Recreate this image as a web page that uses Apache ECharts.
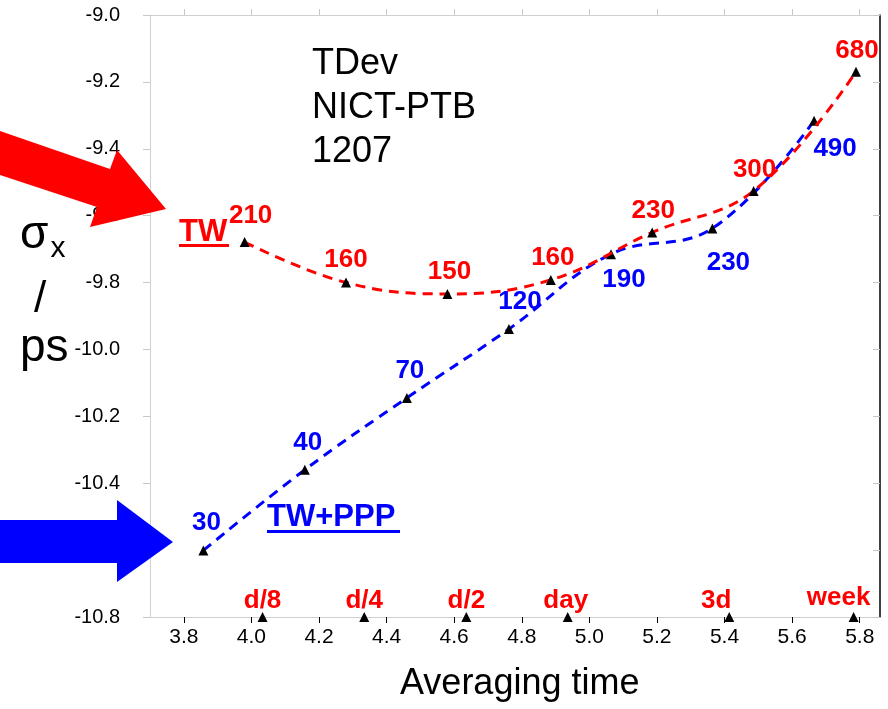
<!DOCTYPE html>
<html>
<head>
<meta charset="utf-8">
<title>TDev NICT-PTB 1207</title>
<script src="https://cdn.jsdelivr.net/npm/echarts@6/dist/echarts.min.js"></script>
<style>
  html, body { margin: 0; padding: 0; background: #fff; }
  #chart { width: 888px; height: 709px; }
</style>
</head>
<body>
<div id="chart"></div>
<script>
// log10(averaging time / s) and log10(TDev) values
const twX = [3.98, 4.28, 4.58, 4.886, 5.186, 5.486, 5.789];
const twY = [-9.679, -9.800, -9.834, -9.792, -9.650, -9.526, -9.170];
const twLabels = ['210', '160', '150', '160', '230', '300', '680'];

const pppX = [3.858, 4.158, 4.46, 4.762, 5.064, 5.364, 5.665];
const pppY = [-10.601, -10.360, -10.145, -9.939, -9.715, -9.638, -9.316];
const pppLabels = ['30', '40', '70', '120', '190', '230', '490'];

// reference periods marked along the bottom axis
const periodX = [4.033, 4.334, 4.636, 4.936, 5.414, 5.782];
const periodLabels = ['d/8', 'd/4', 'd/2', 'day', '3d', 'week'];

const xTicks = [3.8, 4.0, 4.2, 4.4, 4.6, 4.8, 5.0, 5.2, 5.4, 5.6, 5.8];
const yMin = -10.8, yMax = -9.0, yStep = 0.2;

// label offsets (pixels, from the marker centre)
const twOffsets = [[6, -26], [0, -23], [2, -22], [2, -22], [1, -22], [1, -21], [1, -21]];
const pppOffsets = [[3, -28], [3, -27], [3, -27], [11, -27], [13, 26], [16, 34], [21, 28]];
const periodOffsets = [[0, -16], [0, -16], [0, -16], [-2, -16], [-13, -16], [-15, -19]];

const FONT = "'Liberation Sans', Arial, sans-serif";

function pairs(xs, ys, offsets) {
    return xs.map((x, i) => ({
        value: [x, ys[i]],
        label: { offset: offsets[i] }
    }));
}

const chart = echarts.init(document.getElementById('chart'));

chart.setOption({
    animation: false,
    backgroundColor: '#fff',
    textStyle: { fontFamily: FONT },
    grid: { left: 150, right: 8, top: 15, bottom: 92 },
    xAxis: [{
        type: 'value',
        min: 3.7,
        max: 5.86,
        position: 'bottom',
        axisLine: { lineStyle: { color: '#d0d0d0', width: 1 } },
        axisTick: { customValues: xTicks, length: 6, lineStyle: { color: '#000' } },
        axisLabel: {
            customValues: xTicks,
            formatter: v => v.toFixed(1),
            color: '#000', fontSize: 21, margin: 10, fontFamily: FONT
        },
        splitLine: { show: false }
    }, {
        type: 'value',
        min: 3.7,
        max: 5.86,
        position: 'top',
        axisLine: { lineStyle: { color: '#d0d0d0', width: 1 } },
        axisTick: { customValues: xTicks, length: 6, lineStyle: { color: '#c8c8c8' } },
        axisLabel: { show: false },
        splitLine: { show: false }
    }],
    yAxis: [{
        type: 'value',
        min: yMin,
        max: yMax,
        interval: yStep,
        axisLine: { show: true, lineStyle: { color: '#d0d0d0', width: 1 } },
        axisTick: { show: true, length: 7, lineStyle: { color: '#c8c8c8' } },
        axisLabel: {
            formatter: v => v.toFixed(1),
            color: '#000', fontSize: 20, margin: 30, fontFamily: FONT
        },
        splitLine: { show: false }
    }, {
        type: 'value',
        min: yMin,
        max: yMax,
        interval: yStep,
        position: 'right',
        axisLine: { show: true, lineStyle: { color: '#000', width: 1.5 } },
        axisTick: { show: true, inside: true, length: 7, lineStyle: { color: '#c8c8c8' } },
        axisLabel: { show: false },
        splitLine: { show: false }
    }],
    series: [{
        name: 'TW',
        type: 'line',
        smooth: 0.4,
        data: pairs(twX, twY, twOffsets),
        symbol: 'triangle',
        symbolSize: 10,
        itemStyle: { color: '#000' },
        lineStyle: { color: '#ff0000', width: 3, type: [10, 7] },
        label: {
            show: true,
            position: 'inside',
            formatter: p => twLabels[p.dataIndex],
            color: '#ff0000', fontWeight: 'bold', fontSize: 26, fontFamily: FONT
        },
        z: 3
    }, {
        name: 'TW+PPP',
        type: 'line',
        smooth: 0.4,
        data: pairs(pppX, pppY, pppOffsets),
        symbol: 'triangle',
        symbolSize: 10,
        itemStyle: { color: '#000' },
        lineStyle: { color: '#0000ff', width: 3, type: [10, 7] },
        label: {
            show: true,
            position: 'inside',
            formatter: p => pppLabels[p.dataIndex],
            color: '#0000ff', fontWeight: 'bold', fontSize: 26, fontFamily: FONT
        },
        z: 2
    }, {
        name: 'periods',
        type: 'scatter',
        clip: false,
        data: pairs(periodX, periodX.map(() => yMin), periodOffsets),
        symbol: 'triangle',
        symbolSize: 10,
        itemStyle: { color: '#000', opacity: 1 },
        label: {
            show: true,
            position: 'inside',
            formatter: p => periodLabels[p.dataIndex],
            color: '#ff0000', opacity: 1, fontWeight: 'bold', fontSize: 26, fontFamily: FONT
        },
        z: 4
    }],
    graphic: [
        // big arrows pointing at the two series names (drawn over the tick labels)
        {
            type: 'polygon', z: 100,
            shape: { points: [[0, 131], [110, 169], [117, 150], [166, 209], [90, 227], [97, 207], [0, 175]] },
            style: { fill: '#ff0000' }
        },
        {
            type: 'polygon', z: 100,
            shape: { points: [[0, 520], [117, 520], [117, 500], [173, 542], [117, 582], [117, 563], [0, 563]] },
            style: { fill: '#0000ff' }
        },
        // series names, underlined
        {
            type: 'text', left: 179, top: 217,
            style: { text: 'TW', fill: '#ff0000', font: "bold 31px " + FONT }
        },
        {
            type: 'rect', shape: { x: 179, y: 244, width: 50, height: 3 },
            style: { fill: '#ff0000' }
        },
        {
            type: 'text', left: 267, top: 502,
            style: { text: 'TW+PPP', fill: '#0000ff', font: "bold 31px " + FONT }
        },
        {
            type: 'rect', shape: { x: 267, y: 530, width: 133, height: 3 },
            style: { fill: '#0000ff' }
        },
        // title block
        {
            type: 'text', left: 312, top: 42,
            style: {
                text: 'TDev\nNICT-PTB\n1207',
                fill: '#000', font: "36px " + FONT, lineHeight: 44
            }
        },
        // axis names
        {
            type: 'text', left: 20, top: 212,
            style: {
                text: '{s|σ}{x|x}',
                rich: {
                    s: { fontSize: 46, fontFamily: FONT, fill: '#000' },
                    x: { fontSize: 30, fontFamily: FONT, fill: '#000', padding: [28, 0, 0, 2] }
                }
            }
        },
        {
            type: 'text', left: 34, top: 278,
            style: { text: '/', fill: '#000', font: "44px " + FONT }
        },
        {
            type: 'text', left: 20, top: 325,
            style: { text: 'ps', fill: '#000', font: "46px " + FONT }
        },
        {
            type: 'text', left: 400, top: 666,
            style: { text: 'Averaging time', fill: '#000', font: "36px " + FONT }
        }
    ]
});
</script>
</body>
</html>
